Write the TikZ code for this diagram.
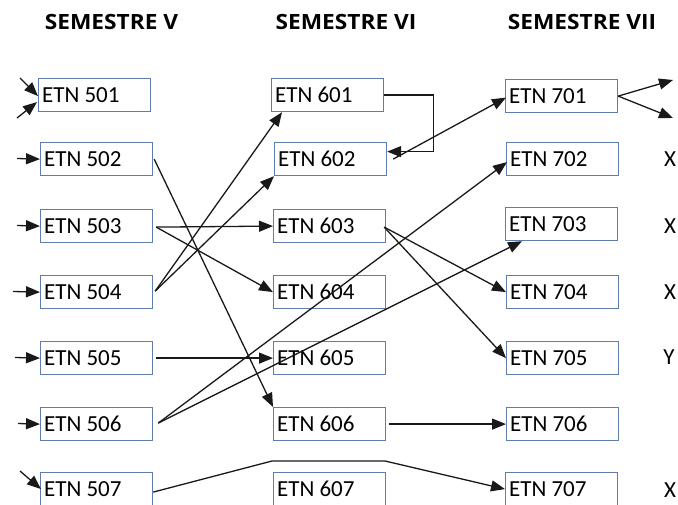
\documentclass[tikz,border=0pt]{standalone}
\usepackage{fontspec}
\setmainfont{Carlito}
\newfontfamily\headfont[FakeStretch=1.08]{Open Sans}
\usetikzlibrary{arrows.meta,calc}
\definecolor{boxline}{RGB}{96,126,172}
\definecolor{wire}{RGB}{25,25,25}
\newcommand{\crs}[1]{\makebox[112pt][l]{\hspace{3.5pt}#1}}
\begin{document}
\begin{tikzpicture}[x=1pt,y=-1pt,
  course/.style={draw=boxline, line width=1.2pt, minimum width=112pt,
    minimum height=33pt, inner sep=0pt, anchor=north west,
    font=\fontsize{23}{26}\selectfont},
  link/.style={draw=wire, line width=1.3pt, -{Triangle[length=14pt,width=11pt]}},
  plain/.style={draw=wire, line width=1.3pt},
  head/.style={font=\headfont\bfseries\fontsize{21}{24}\selectfont},
  grade/.style={font=\fontsize{23}{26}\selectfont}]
\useasboundingbox (0,0) rectangle (678,504);

% semester headings
\node[head] (h5) at (111.5,22) {SEMESTRE V};
\node[head] (h6) at (346,22) {SEMESTRE VI};
\node[head] (h7) at (582,22) {SEMESTRE VII};

% semester V
\node[course] (c501) at (38,78)  {\crs{ETN 501}};
\node[course] (c502) at (40,142) {\crs{ETN 502}};
\node[course] (c503) at (40,209) {\crs{ETN 503}};
\node[course] (c504) at (40,275) {\crs{ETN 504}};
\node[course] (c505) at (40,341) {\crs{ETN 505}};
\node[course] (c506) at (40,407) {\crs{ETN 506}};
\node[course] (c507) at (40,472) {\crs{ETN 507}};

% semester VI
\node[course] (c601) at (271,78)  {\crs{ETN 601}};
\node[course] (c602) at (274,142) {\crs{ETN 602}};
\node[course] (c603) at (273,209) {\crs{ETN 603}};
\node[course] (c604) at (273,275) {\crs{ETN 604}};
\node[course] (c605) at (273,341) {\crs{ETN 605}};
\node[course] (c606) at (273,407) {\crs{ETN 606}};
\node[course] (c607) at (273,472) {\crs{ETN 607}};

% semester VII
\node[course] (c701) at (505,79)  {\crs{ETN 701}};
\node[course] (c702) at (506,142) {\crs{ETN 702}};
\node[course] (c703) at (505,207) {\crs{ETN 703}};
\node[course] (c704) at (506,275) {\crs{ETN 704}};
\node[course] (c705) at (506,341) {\crs{ETN 705}};
\node[course] (c706) at (506,407) {\crs{ETN 706}};
\node[course] (c707) at (505,472) {\crs{ETN 707}};

% grades
\node[grade] (g702) at (670,159) {X};
\node[grade] (g703) at (670,226) {X};
\node[grade] (g704) at (670,292) {X};
\node[grade] (g705) at (669,357) {Y};
\node[grade] (g707) at (670,490) {X};

% loose ends
\coordinate (in501a) at (20,78);
\coordinate (in501b) at (17,118);
\coordinate (in502) at (17,158.5);
\coordinate (in503) at (17,225.5);
\coordinate (in504) at (13,291.5);
\coordinate (in505) at (15,357.5);
\coordinate (in506) at (18,423.5);
\coordinate (in507) at (20,471);
\coordinate (out701a) at (673,80);
\coordinate (out701b) at (673,118);
\coordinate (bendA) at (272,461);
\coordinate (bendB) at (385,461);

% incoming prerequisites
\draw[link] (in501a) -- ($(c501.west)+(0,1)$);
\draw[link] (in501b) -- ($(c501.west)+(-1,7)$);
\draw[link] (in502) -- (c502.west);
\draw[link] (in503) -- (c503.west);
\draw[link] (in504) -- (c504.west);
\draw[link] (in505) -- (c505.west);
\draw[link] (in506) -- (c506.west);
\draw[link] (in507) -- ($(c507.west)+(1,0)$);

% semester V -> VI
\draw[link] ($(c502.east)+(1,0)$) -- (c606.north west);
\draw[link] ($(c503.east)+(3,1)$) -- (c603.west);
\draw[link] ($(c503.east)+(3,1)$) -- (c604.west);
\draw[link] ($(c504.east)+(2,-1)$) -- ($(c601.south west)+(11,0)$);
\draw[link] ($(c504.east)+(2,-1)$) -- (c602.south west);
\draw[link] ($(c505.east)+(3,0)$) -- (c605.west);

% semester V -> VII
\draw[link] ($(c506.east)+(5,-1)$) -- ($(c702.west)+(1,3)$);
\draw[link] ($(c506.east)+(5,-1)$) -- ($(c703.south west)+(17,0)$);
\draw[link] ($(c507.east)+(0,3)$) -- (bendA) -- (bendB) -- (c707.west);

% semester VI
\draw[link] (c601.east) -- ++(49,0) |- ($(c602.east)+(0,-7.5)$);
\draw[link] ($(c602.east)+(6,0)$) -- ($(c701.west)+(1,1.5)$);
\draw[link] ($(c603.east)+(-2,1)$) -- (c704.west);
\draw[link] ($(c603.east)+(-2,1)$) -- (c705.west);
\draw[link] ($(c606.east)+(3,0)$) -- (c706.west);

% semester VII onward
\draw[link] (c701.east) -- (out701a);
\draw[link] (c701.east) -- (out701b);
\end{tikzpicture}
\end{document}
